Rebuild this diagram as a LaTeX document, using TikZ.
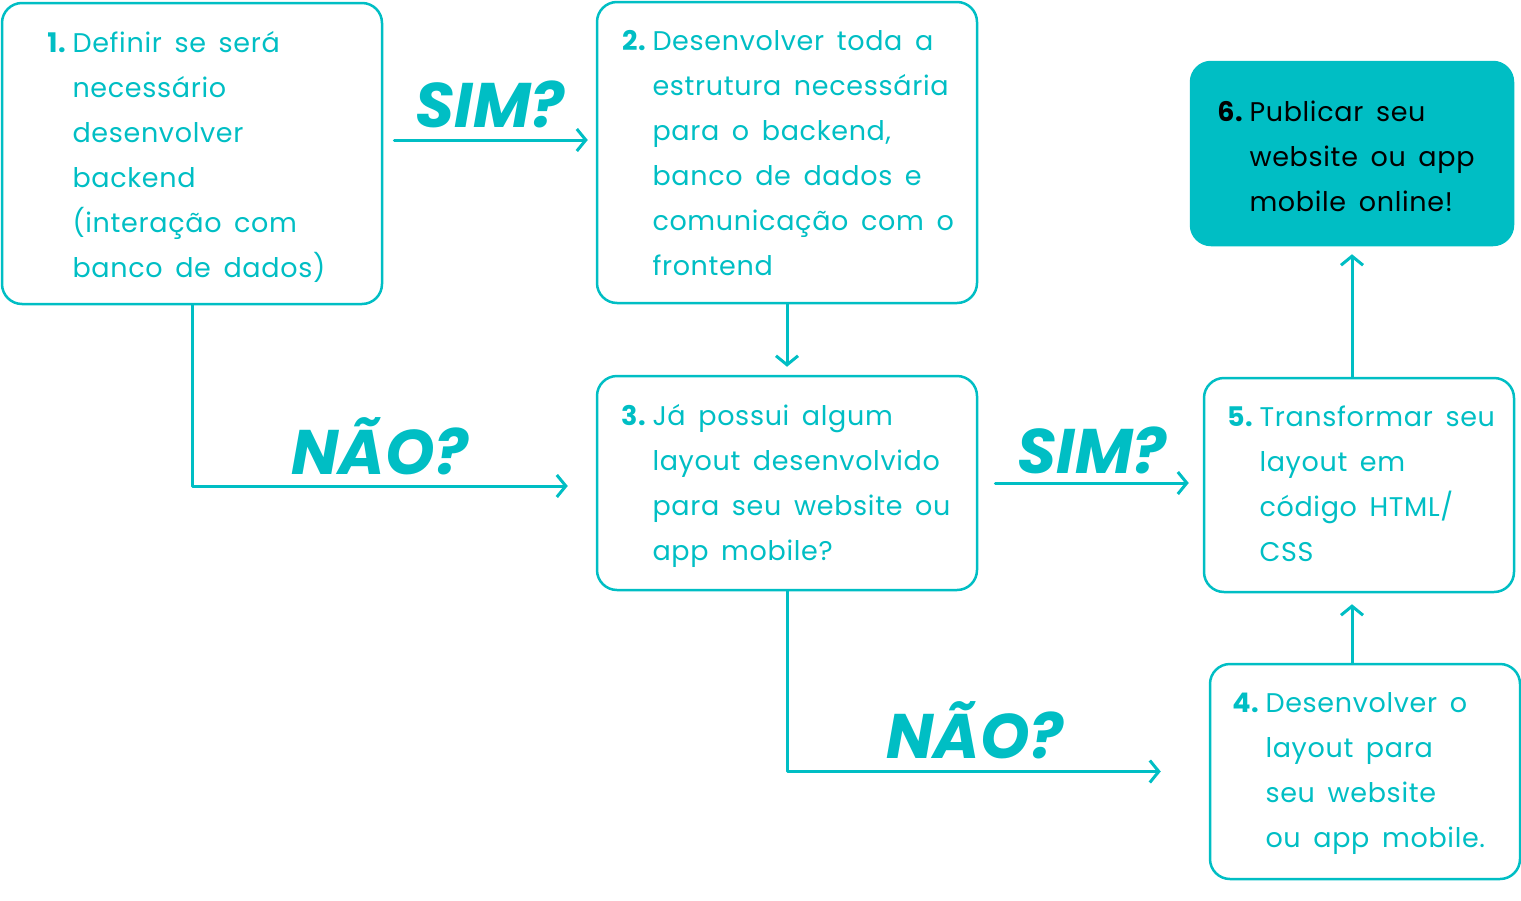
\documentclass[tikz,border=0pt]{standalone}
\usepackage{fontspec}
\setmainfont{Poppins}[LetterSpace=2.5, WordSpace=1.6]
\newfontfamily\pincel{Poppins}
\usetikzlibrary{arrows.meta}
\definecolor{turquesa}{RGB}{0,190,196}
\tikzstyle{every path}=[line width=3pt, line cap=round, line join=round]
\tikzstyle{caja}=[draw=turquesa, rounded corners=20pt, line width=2.5pt, inner sep=0pt]
\tikzstyle{texto}=[anchor=north west, align=left, inner sep=0pt, text=turquesa, font=\fontsize{27}{45}\selectfont]
\tikzstyle{flecha}=[draw=turquesa, line width=3pt, -{Straight Barb[length=9pt,width=22pt]}]
\tikzstyle{pregunta}=[text=turquesa, font=\fontsize{63}{63}\selectfont\pincel\bfseries\itshape]

\begin{document}
\begin{tikzpicture}[x=1pt,y=-1pt]
        \useasboundingbox (0,0) rectangle (1521,900);
        %cajas
        \node[caja, minimum width=380pt, minimum height=301pt] (c1) at (192,153.5) {};
        \node[caja, minimum width=380pt, minimum height=301pt] (c2) at (787,152.5) {};
        \node[caja, fill=turquesa, minimum width=322pt, minimum height=183pt] (c6) at (1352,153.5) {};
        \node[caja, minimum width=380pt, minimum height=214pt] (c3) at (787,483) {};
        \node[caja, minimum width=310pt, minimum height=214pt] (c5) at (1359,485) {};
        \node[caja, minimum width=310pt, minimum height=215pt] (c4) at (1365,771.5) {};
        %textos
        \node[texto] (t1) at (71,30) {\llap{\textbf{1.}\hspace{6pt}}Definir se será\\necessário\\desenvolver\\backend\\(interação com\\banco de dados)};
        \node[texto] (t2) at (651,29) {\llap{\textbf{2.}\hspace{6pt}}Desenvolver toda a\\estrutura necessária\\para o backend,\\banco de dados e\\comunicação com o\\frontend};
        \node[texto, text=black] (t6) at (1248,99) {\llap{\textbf{6.}\hspace{6pt}}Publicar seu\\website ou app\\mobile online!};
        \node[texto] (t3) at (651,403) {\llap{\textbf{3.}\hspace{6pt}}Já possui algum\\layout desenvolvido\\para seu website ou\\app mobile?};
        \node[texto] (t5) at (1258,404) {\llap{\textbf{5.}\hspace{6pt}}Transformar seu\\layout em\\código HTML/\\CSS};
        \node[texto] (t4) at (1264,691) {\llap{\textbf{4.}\hspace{6pt}}Desenvolver o\\layout para\\seu website\\ou app mobile.};
        %flechas
        \draw[flecha, shorten <=11pt, shorten >=8pt] ([yshift=13.5pt]c1.east) -- ([yshift=13.5pt]c1.east -| c2.west);
        \draw[flecha, shorten >=28pt] (c1.south) |- ([yshift=-3pt]c3.west);
        \draw[flecha, shorten >=8pt] (c2.south) -- (c3.north);
        \draw[flecha, shorten <=17pt, shorten >=14pt] (c3.east) -- (c3.east -| c5.west);
        \draw[flecha, shorten >=48pt] (c3.south) |- (c4.west);
        \draw[flecha, shorten >=11pt] ([xshift=-13pt]c4.north) -- ([xshift=-13pt]c4.north |- c5.south);
        \draw[flecha, shorten >=8pt] (c6.south |- c5.north) -- (c6.south);
        %preguntas
        \node[pregunta] (sim1) at (490,104) {SIM?};
        \node[pregunta] (nao1) at (380,446) {NÃO?};
        \node[pregunta] (sim2) at (1092,450) {SIM?};
        \node[pregunta] (nao2) at (975,730) {NÃO?};
\end{tikzpicture}
\end{document}
